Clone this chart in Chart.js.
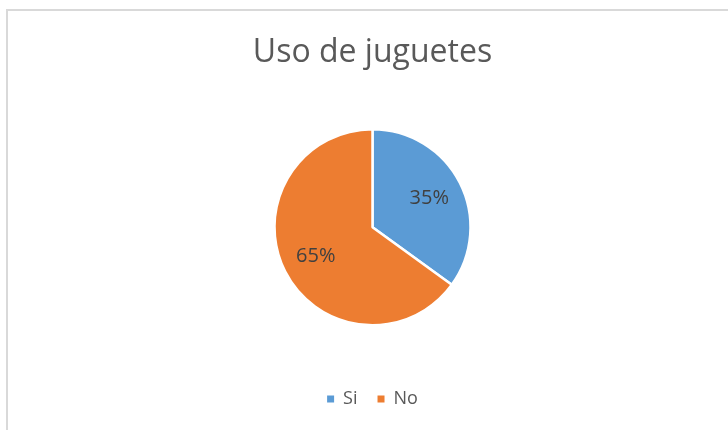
<!DOCTYPE html>
<html>
<head>
<meta charset="utf-8">
<script src="https://cdn.jsdelivr.net/npm/chart.js@4/dist/chart.umd.min.js"></script>
<style>
    html, body { margin: 0; padding: 0; background: #fff; }
    .frame {
        position: absolute; left: 6px; top: 9px;
        width: 740px; height: 440px;
        border: 2px solid #d9d9d9; box-sizing: border-box;
    }
    .wrap { position: absolute; left: 0; top: 0; width: 728px; height: 430px; }
</style>
</head>
<body>
<div class="frame"></div>
<div class="wrap"><canvas id="pieChart"></canvas></div>
<script>
// data
const labels = ['Si', 'No'];
const values = [35, 65];
const colors = ['#5b9bd5', '#ed7d31'];
const chartTitle = 'Uso de juguetes';

// percentage labels inside the slices
const sliceLabels = {
    id: 'sliceLabels',
    afterDatasetsDraw(chart) {
        const ctx = chart.ctx;
        const meta = chart.getDatasetMeta(0);
        const total = values.reduce((a, b) => a + b, 0);
        ctx.save();
        ctx.font = '20px "Open Sans"';
        ctx.fillStyle = '#404040';
        ctx.textAlign = 'center';
        ctx.textBaseline = 'middle';
        meta.data.forEach((arc, i) => {
            const mid = (arc.startAngle + arc.endAngle) / 2;
            const r = arc.outerRadius * 0.65;
            const x = arc.x + Math.cos(mid) * r;
            const y = arc.y + Math.sin(mid) * r;
            ctx.fillText(Math.round(values[i] / total * 100) + '%', x, y);
        });
        ctx.restore();
    }
};

const defaultLabels = Chart.overrides.pie.plugins.legend.labels.generateLabels;

new Chart(document.getElementById('pieChart'), {
    type: 'pie',
    data: {
        labels: labels,
        datasets: [{
            data: values,
            backgroundColor: colors,
            borderColor: '#fff',
            borderWidth: 2.5,
            hoverOffset: 0
        }]
    },
    options: {
        responsive: true,
        maintainAspectRatio: false,
        animation: false,
        radius: 98,
        layout: { padding: { left: 17, top: 0, bottom: 12 } },
        plugins: {
            title: {
                display: true,
                text: chartTitle,
                color: '#595959',
                font: { family: '"Open Sans"', size: 32, weight: 'normal' },
                padding: { top: 34, bottom: 12 }
            },
            legend: {
                position: 'bottom',
                labels: {
                    color: '#595959',
                    font: { family: '"Open Sans"', size: 18 },
                    boxWidth: 7,
                    boxHeight: 7,
                    padding: 20,
                    generateLabels: (chart) => defaultLabels(chart).map((item) => {
                        item.lineWidth = 0;
                        item.strokeStyle = item.fillStyle;
                        return item;
                    })
                }
            },
            tooltip: { enabled: false }
        }
    },
    plugins: [sliceLabels]
});
</script>
</body>
</html>
